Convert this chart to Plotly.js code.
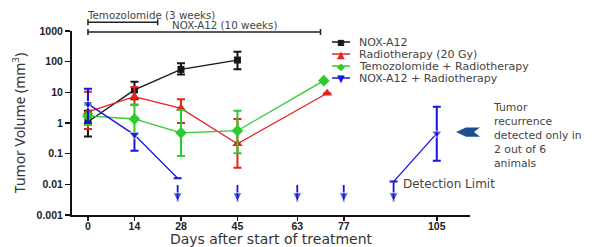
<!DOCTYPE html>
<html><head><meta charset="utf-8">
<script src="https://cdn.plot.ly/plotly-3.0.1.min.js"></script>
<style>html,body{margin:0;padding:0;background:#fff}#chart{width:596px;height:247px}</style>
</head><body><div id="chart"></div>
<script>
// ---- data ----
const xTicks = [0, 14, 28, 45, 63, 77, 105];
const yTickVals = [0.001, 0.01, 0.1, 1, 10, 100, 1000];
const yTickText = ['0.001', '0.01', '0.1', '1', '10', '100', '1000'];

const noxDays = [0, 14, 28, 45];
const noxVol  = [1.1, 12, 56, 113];
const noxHi   = [2.5, 22, 89, 210];
const noxLo   = [0.36, 6, 38.5, 57];

const rtDays = [0, 14, 28, 45, 72];
const rtVol  = [2.3, 7.2, 3.0, 0.21, 9.3];
const rtHi   = [10.5, 15, 5.9, 1.35, null];
const rtLo   = [0.64, 3.9, 1.0, 0.035, null];

const tmzDays = [0, 14, 28, 45, 71];
const tmzVol  = [1.7, 1.35, 0.48, 0.56, 24];
const tmzHi   = [3.9, 3.9, 2.65, 2.5, null];
const tmzLo   = [0.86, 0.45, 0.084, 0.103, null];

const comboDays = [0, 14, 27];
const comboVol  = [4.2, 0.41, 0.0157];
const comboHi   = [13, 0.47, null];
const comboLo   = [1.0, 0.125, null];

const recurDays = [92, 105];
const recurVol  = [0.0123, 0.46];
const recurHi   = [null, 3.4];
const recurLo   = [null, 0.059];

const belowDays = [27, 45, 63, 77, 92];
const belowFrom = [0.0095, 0.0095, 0.0095, 0.0095, 0.0123];
const belowTo   = [0.0027, 0.0027, 0.0027, 0.0027, 0.0027];

const detectionLimit = 0.011;
const baselineVol = 1;
const treatments = ['Temozolomide (3 weeks)', 'NOX-A12 (10 weeks)'];
const treatmentEnd = [21, 70];

const names = ['NOX-A12', 'Radiotherapy (20 Gy)', 'Temozolomide + Radiotherapy', 'NOX-A12 + Radiotherapy'];
const colors = ['#161616', '#e82222', '#2ccc2c', '#1515dd'];
const glyphs = ['■', '▲', '◆', '▼'];

// ---- layout geometry ----
const W = 596, H = 247, L = 72, R = 126, T = 31, B = 32;
const PW = W - L - R, PH = H - T - B;
const px = x => (x - L) / PW;
const py = y => 1 - (y - T) / PH;

function errs(v, hi, lo) {
  return {
    type: 'data', symmetric: false,
    array: v.map((d, i) => hi[i] == null ? 0 : hi[i] - d),
    arrayminus: v.map((d, i) => lo[i] == null ? 0 : d - lo[i])
  };
}
function tr(x, y, hi, lo, k, sym, size, msizes) {
  const e = errs(y, hi, lo);
  return {
    x: x, y: y, type: 'scatter', mode: 'lines+markers', name: names[k] || '',
    showlegend: false,
    line: {color: colors[k], width: 1.3},
    marker: {symbol: sym, size: msizes || size, color: colors[k]},
    error_y: Object.assign(e, {color: colors[k], thickness: 2, width: 4}),
    cliponaxis: false
  };
}

// below-detection arrows built from arrays
const arrX = [], arrY = [], arrS = [];
belowDays.forEach((d, i) => {
  arrX.push(d, d, null); arrY.push(belowFrom[i], belowTo[i], null); arrS.push(0, 9, 0);
});

const data = [
  tr(noxDays, noxVol, noxHi, noxLo, 0, 'square', 7),
  tr(rtDays, rtVol, rtHi, rtLo, 1, 'triangle-up', 9),
  tr(tmzDays, tmzVol, tmzHi, tmzLo, 2, 'diamond', 9),
  tr(comboDays, comboVol, comboHi, comboLo, 3, 'triangle-down', 9, comboDays.map((d, i) => i === comboDays.length - 1 ? 0 : 9)),
  tr(recurDays, recurVol, recurHi, recurLo, 3, 'triangle-down', 9, recurDays.map((d, i) => i === 0 ? 0 : 9)),
  {x: arrX, y: arrY, type: 'scatter', mode: 'lines+markers', showlegend: false, cliponaxis: false,
   line: {color: colors[3], width: 1.8}, marker: {symbol: 'arrow-down', size: arrS, color: colors[3]}}
];

const textFont = {family: 'DejaVu Sans', size: 11, color: '#444'};
const shapes = [
  {type: 'line', xref: 'x', yref: 'y', x0: -2, x1: 115, y0: Math.log10(baselineVol), y1: Math.log10(baselineVol),
   line: {color: '#a8aec8', width: 1, dash: 'dot'}},
  {type: 'line', xref: 'x', yref: 'y', x0: -2, x1: 90, y0: Math.log10(detectionLimit), y1: Math.log10(detectionLimit),
   line: {color: '#f0a868', width: 1.5, dash: '8px,6px'}}
];
const annotations = [];

// treatment brackets
const bracketY = [22.3, 32];
treatments.forEach((t, i) => {
  const yb = bracketY[i];
  shapes.push({type: 'line', xref: 'x', yref: 'paper', x0: 0, x1: treatmentEnd[i], y0: py(yb), y1: py(yb), line: {color: '#222', width: 1.5}});
  [0, treatmentEnd[i]].forEach(d => shapes.push({type: 'line', xref: 'x', yref: 'paper', x0: d, x1: d, y0: py(yb - 3), y1: py(yb + 3), line: {color: '#222', width: 1.5}}));
});
annotations.push({xref: 'paper', yref: 'paper', x: px(85), y: py(14.5), xanchor: 'left', yanchor: 'middle', showarrow: false,
  text: treatments[0], font: {family: 'DejaVu Sans', size: 10.3, color: '#444'}});
annotations.push({xref: 'paper', yref: 'paper', x: px(170), y: py(25.5), xanchor: 'left', yanchor: 'middle', showarrow: false,
  text: treatments[1], font: {family: 'DejaVu Sans', size: 10.3, color: '#444'}});

annotations.push({xref: 'paper', yref: 'paper', x: px(401), y: py(184), xanchor: 'left', yanchor: 'middle', showarrow: false,
  text: 'Detection Limit', font: {family: 'DejaVu Sans', size: 12, color: '#444'}});
annotations.push({xref: 'paper', yref: 'paper', x: px(491), y: py(99), xanchor: 'left', yanchor: 'top', showarrow: false, align: 'left',
  text: 'Tumor<br>recurrence<br>detected only in<br>2 out of 6<br>animals', font: {family: 'DejaVu Sans', size: 10.8, color: '#444'}});

// flag pointer
const fp = [[456, 132], [466, 127.5], [480, 127.5], [474, 132], [480, 136.7], [466, 136.7]];
shapes.push({type: 'path', xref: 'paper', yref: 'paper', fillcolor: '#1d4f8f', line: {width: 0},
  path: 'M' + fp.map(p => px(p[0]) + ',' + py(p[1])).join(' L') + ' Z'});

// manual legend
names.forEach((n, i) => {
  const yy = 42 + 12 * i;
  shapes.push({type: 'line', xref: 'paper', yref: 'paper', x0: px(332), x1: px(350), y0: py(yy), y1: py(yy), line: {color: colors[i], width: 1.5}});
  annotations.push({xref: 'paper', yref: 'paper', x: px(341), y: py(yy), xanchor: 'center', yanchor: 'middle', showarrow: false,
    text: glyphs[i], font: {family: 'DejaVu Sans', size: i === 0 ? 8 : 10, color: colors[i]}});
  annotations.push({xref: 'paper', yref: 'paper', x: px(357), y: py(yy), xanchor: 'left', yanchor: 'middle', showarrow: false,
    text: n, font: textFont});
});

const layout = {
  width: W, height: H,
  margin: {l: L, r: R, t: T, b: B, pad: 0},
  paper_bgcolor: '#fff', plot_bgcolor: '#fff',
  showlegend: false,
  xaxis: {
    range: [-4.8, 115], tickvals: xTicks, ticktext: xTicks.map(String),
    showgrid: false, zeroline: false, showline: true, linecolor: '#111', linewidth: 2,
    ticks: 'outside', ticklen: 4, tickwidth: 1.5, tickcolor: '#111', ticklabelstandoff: -4,
    tickfont: {family: 'Liberation Sans', size: 10.5, color: '#222', weight: 'bold'},
    title: {text: 'Days after start of treatment', font: {family: 'DejaVu Sans', size: 14, color: '#333'}, standoff: 8}
  },
  yaxis: {
    type: 'log', range: [-3, 3], tickvals: yTickVals, ticktext: yTickText,
    showgrid: false, zeroline: false, showline: true, linecolor: '#111', linewidth: 2,
    ticks: 'outside', ticklen: 5, tickwidth: 1.5, tickcolor: '#111',
    tickfont: {family: 'Liberation Sans', size: 10.5, color: '#222', weight: 'bold'},
    title: {text: 'Tumor Volume (mm<sup>3</sup>)', font: {family: 'Noto Sans', size: 14, color: '#333'}, standoff: 8}
  },
  shapes: shapes,
  annotations: annotations
};

Plotly.newPlot('chart', data, layout, {displayModeBar: false, staticPlot: true});
</script>
</body></html>
